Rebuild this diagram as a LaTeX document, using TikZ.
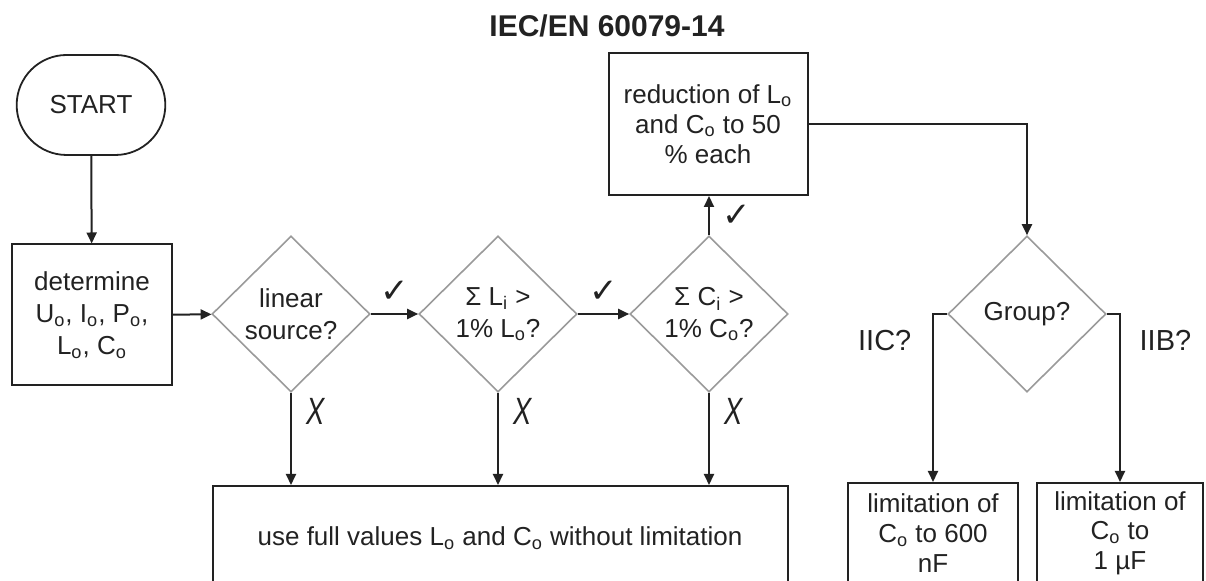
\documentclass[tikz,border=0pt]{standalone}
\usepackage{fontspec}
\setmainfont{Liberation Sans}
\newfontfamily\checkfont{DejaVu Sans}
\usepackage{tikz}
\usetikzlibrary{arrows.meta,positioning,shapes.geometric,shapes.misc}
\definecolor{flowink}{HTML}{222222}
\definecolor{flowgray}{HTML}{9A9A9A}
\newcommand{\subo}{\textsubscript{o}}
\newcommand{\subi}{\textsubscript{i}}
\newcommand{\yesmark}{{\checkfont\char"2713}}
\newcommand{\nomark}{\scalebox{0.72}[1]{\textsl{X}}}

\begin{document}
\begin{tikzpicture}[
  x=0.5pt, y=-0.5pt,
  every node/.style={font=\fontsize{13}{16}\selectfont, align=center, text=flowink},
  stepbox/.style={draw=flowink, line width=1pt, inner sep=2pt},
  startbox/.style={rounded rectangle, draw=flowink, line width=0.9pt, minimum width=81pt, minimum height=50pt},
  decision/.style={diamond, draw=flowgray, line width=0.8pt, minimum width=79pt, minimum height=78pt, inner sep=0pt},
  flow/.style={draw=flowink, line width=1pt, -{Triangle[length=5.5pt,width=5pt]}},
  tick/.style={font=\fontsize{17}{17}\selectfont},
  cross/.style={font=\fontsize{19}{19}\selectfont},
  branch/.style={font=\fontsize{14.5}{15}\selectfont}
]
\clip (0,0) rectangle (1206,581);

\node[font=\fontsize{15}{15}\selectfont\bfseries] (title) at (607,26) {IEC/EN 60079-14};
\node[startbox] (start) at (91,105) {START};
\node[stepbox, minimum width=80pt, minimum height=70.5pt] (determine) at (92,315)
  {determine\\U\subo, I\subo, P\subo,\\L\subo, C\subo};
\node[decision] (linear) at (291,314) {linear\\source?};
\node[decision] (sumL) at (498,314) {Σ L\subi{} >\\1\% L\subo?};
\node[decision] (sumC) at (709,314) {Σ C\subi{} >\\1\% C\subo?};
\node[stepbox, minimum width=99.5pt, minimum height=71pt, font=\fontsize{13}{15}\selectfont] (reduce) at (708,124)
  {reduction of L\subo\\and C\subo{} to 50\\\% each};
\node[decision] (group) at (1027,314) {Group?};
\node[stepbox, minimum width=287.5pt, minimum height=52pt] (fullval) at (500,538)
  {use full values L\subo{} and C\subo{} without limitation};
\node[stepbox, minimum width=85pt, minimum height=50pt, font=\fontsize{13}{14.8}\selectfont] (limIIC) at (933,533)
  {limitation of\\C\subo{} to 600\\nF};
\node[stepbox, minimum width=83pt, minimum height=50pt, font=\fontsize{13}{14.8}\selectfont] (limIIB) at (1120,533)
  {limitation of\\C\subo{} to\\1 µF};

% main line
\draw[flow] (start) -- (determine);
\draw[flow] (determine) -- (linear);
\draw[flow] (linear) -- node[tick, above=2pt]{\yesmark} (sumL);
\draw[flow] (sumL) -- node[tick, above=2pt]{\yesmark} (sumC);
\draw[flow] (sumC.north) -- node[tick, right=3pt]{\yesmark} (sumC.north |- reduce.south);
\draw[flow] (reduce.east) -| (group.north);

% no branches
\draw[flow] (linear.south) -- node[cross, pos=0.2, right=4pt]{\nomark} (linear.south |- fullval.north);
\draw[flow] (sumL.south) -- node[cross, pos=0.2, right=4pt]{\nomark} (sumL.south |- fullval.north);
\draw[flow] (sumC.south) -- node[cross, pos=0.2, right=4pt]{\nomark} (sumC.south |- fullval.north);

% gas group
\draw[flow] (group.west) -| node[branch, pos=0.58, left=7pt]{IIC?} (limIIC.north);
\draw[flow] (group.east) -| node[branch, pos=0.58, right=6pt]{IIB?} (limIIB.north);
\end{tikzpicture}
\end{document}
